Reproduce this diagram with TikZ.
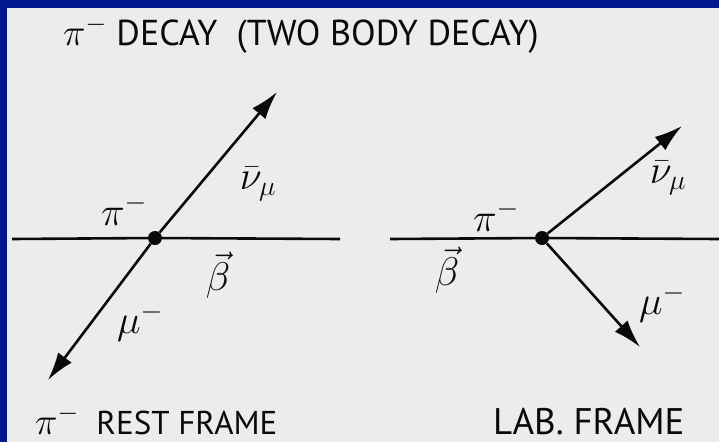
\RequirePackage{fix-cm}
\documentclass[tikz,border=0pt]{standalone}
\usepackage{fontspec}
\setmainfont{PT Sans}
\usepackage{amsmath}
\usepackage{tikz}
\usetikzlibrary{arrows.meta, positioning, calc}
\definecolor{myblue}{RGB}{0,24,140}
\definecolor{mypaper}{RGB}{236,236,236}
\definecolor{mydark}{RGB}{10,10,10}
\newcommand{\bigpi}{{\fontsize{38}{38}\selectfont$\pi^-$}}
\tikzset{
  track/.style={line width=2.6pt, color=mydark},
  particle/.style={-{Latex[length=28pt,width=17pt]}, line width=2.6pt, color=mydark},
  vertex/.style={circle, fill=mydark, inner sep=0pt, minimum size=14pt},
  lbl/.style={font=\fontsize{40}{42}\selectfont, text=mydark, inner sep=0pt},
  caption/.style={font=\fontsize{33}{36}\selectfont, text=mydark, inner sep=0pt}
}

\begin{document}
\begin{tikzpicture}[x=1pt, y=-1pt]
  \useasboundingbox (0,0) rectangle (719,442);
  \fill[myblue] (0,0) rectangle (719,442);
  \fill[mypaper] (7,8) rectangle (719,442);

  % Title
  \node[caption, anchor=base west, font=\fontsize{36}{40}\selectfont] (title) at (63,45) {\bigpi\ DECAY \ (TWO BODY DECAY)};

  % Pion rest frame
  \coordinate (restL) at (12,239);
  \coordinate (restR) at (340,239);
  \node[vertex] (restV) at (155,238) {};
  \coordinate (restNu) at (277,92);
  \coordinate (restMu) at (48,380);
  \draw[track] (restL) -- (restV) -- (restR);
  \draw[particle] (restV) -- (restNu);
  \draw[particle] (restV) -- (restMu);
  \node[lbl] (restPi) at (124,210) {$\pi^-$};
  \node[lbl] (restNuL) at (258,184) {$\bar{\nu}_\mu$};
  \node[lbl] (restBeta) at (218,275) {$\vec{\beta}$};
  \node[lbl] (restMuL) at (140,322) {$\mu^-$};
  \node[caption, anchor=base west] (restCap) at (35,434) {\bigpi\ \ REST FRAME};

  % Lab frame
  \coordinate (labL) at (390,239);
  \coordinate (labR) at (719,239);
  \node[vertex] (labV) at (542,238) {};
  \coordinate (labNu) at (682,126);
  \coordinate (labMu) at (640,347);
  \draw[track] (labL) -- (labV) -- (labR);
  \draw[particle] (labV) -- (labNu);
  \draw[particle] (labV) -- (labMu);
  \node[lbl] (labPi) at (496,216) {$\pi^-$};
  \node[lbl] (labNuL) at (668,178) {$\bar{\nu}_\mu$};
  \node[lbl] (labBeta) at (447,270) {$\vec{\beta}$};
  \node[lbl] (labMuL) at (662,303) {$\mu^-$};
  \node[caption, anchor=base west, font=\fontsize{37}{40}\selectfont] (labCap) at (493,434) {LAB. FRAME};
\end{tikzpicture}
\end{document}
